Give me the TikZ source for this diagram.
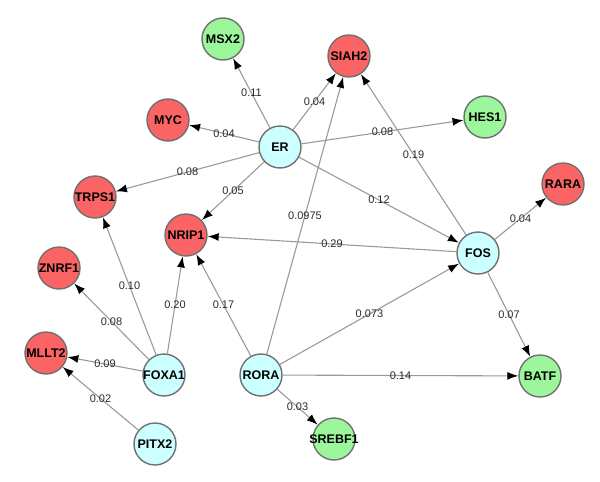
\documentclass[tikz,border=0pt]{standalone}
\usepackage{fontspec}
\setmainfont{Liberation Sans}
\usetikzlibrary{arrows.meta}
\definecolor{tfcyan}{HTML}{CCFFFF}
\definecolor{upred}{HTML}{FA6464}
\definecolor{dngreen}{HTML}{9CF79C}
\definecolor{rimgray}{HTML}{707070}
\definecolor{edgegray}{HTML}{9A9A9A}
\definecolor{wtgray}{HTML}{2A2A2A}
\begin{document}
\begin{tikzpicture}[x=1pt,y=-1pt,
    gene/.style={circle,draw=rimgray,line width=1.4pt,minimum size=42pt,inner sep=0pt,
      font=\bfseries\fontsize{12.5}{12.5}\selectfont},
    edge/.style={draw=edgegray,line width=1.1pt,-{Latex[black,length=11pt,width=8pt]}},
    wt/.style={font=\fontsize{11}{11}\selectfont,text=wtgray,inner sep=0pt}]
    \useasboundingbox(0,0)rectangle(600,482);
    % genes
    \foreach\n/\x/\y/\c in{MSX2/223/39/dngreen,SIAH2/349/56/upred,MYC/168/120/upred,
        ER/280/147/tfcyan,HES1/485/117/dngreen,RARA/563/184/upred,TRPS1/95/197/upred,
        NRIP1/186/235/upred,FOS/478/253/tfcyan,ZNRF1/59/268/upred,MLLT2/46/353/upred,
        FOXA1/164/375/tfcyan,RORA/261/375/tfcyan,BATF/540/376/dngreen,
        PITX2/155/444/tfcyan,SREBF1/334/439/dngreen}
        \node[gene,fill=\c](\n)at(\x,\y){\makebox[0pt]{\n}};
    % regulations with weights
    \foreach\s/\t/\w in{ER/MSX2/0.11,ER/MYC/0.04,ER/TRPS1/0.08,ER/NRIP1/0.05,ER/SIAH2/0.04,
        ER/HES1/0.08,ER/FOS/0.12,RORA/SIAH2/0.0975,FOS/SIAH2/0.19,FOS/RARA/0.04,
        FOS/NRIP1/0.29,FOS/BATF/0.07,RORA/FOS/0.073,RORA/NRIP1/0.17,RORA/BATF/0.14,
        RORA/SREBF1/0.03,FOXA1/TRPS1/0.10,FOXA1/NRIP1/0.20,FOXA1/ZNRF1/0.08,
        FOXA1/MLLT2/0.09,PITX2/MLLT2/0.02}
        \draw[edge](\s)--node[wt]{\w}(\t);
\end{tikzpicture}
\end{document}
